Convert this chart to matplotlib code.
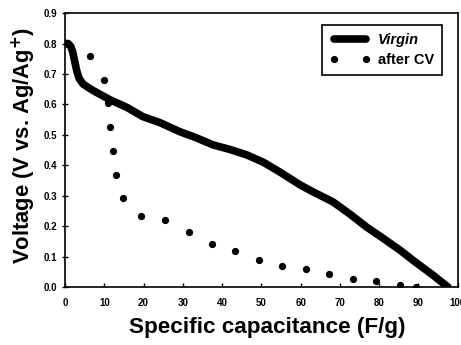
import matplotlib
matplotlib.use("Agg")
import matplotlib.pyplot as plt

# Virgin electrode discharge curve
virgin_x = [0, 0.8, 1.5, 2.0, 2.5, 3.0, 3.6, 4.6, 6.0, 7.1, 11.5, 15.8, 19.8, 24.2, 29.3,
            33.5, 37.7, 42, 46.3, 50.5, 54.7, 59.8, 63.1, 68.2, 72.5, 76.8, 81, 85.2,
            89.4, 93.6, 97.5]
virgin_y = [0.80, 0.80, 0.79, 0.77, 0.74, 0.71, 0.685, 0.667, 0.655, 0.646, 0.615, 0.59,
            0.56, 0.54, 0.51, 0.49, 0.467, 0.452, 0.434, 0.41, 0.378, 0.336, 0.313,
            0.28, 0.24, 0.197, 0.16, 0.122, 0.08, 0.04, 0.0]

# after CV cycling
cv_x = [6.4, 9.9, 10.9, 11.5, 12.2, 13.0, 14.8, 19.3, 25.4, 31.6, 37.4, 43.3, 49.4,
        55.2, 61.3, 67.2, 73.3, 79.1, 85.2, 89.3]
cv_y = [0.76, 0.68, 0.605, 0.526, 0.447, 0.368, 0.293, 0.234, 0.22, 0.18, 0.14, 0.12,
        0.09, 0.07, 0.06, 0.043, 0.026, 0.02, 0.007, 0.0]

xticks = [0, 10, 20, 30, 40, 50, 60, 70, 80, 90, 100]
yticks = [0.0, 0.1, 0.2, 0.3, 0.4, 0.5, 0.6, 0.7, 0.8, 0.9]

plt.rcParams['font.family'] = ['Liberation Sans', 'DejaVu Sans']

fig = plt.figure(figsize=(4.61, 3.45), dpi=100)
ax = fig.add_axes([0.141, 0.168, 0.852, 0.794])

ax.plot(virgin_x, virgin_y, color='black', lw=5.5, solid_capstyle='round',
        solid_joinstyle='round', label='Virgin')
ax.plot(cv_x, cv_y, 'o', color='black', ms=4.2, ls='none', label='after CV')

ax.set_xlim(0, 100)
ax.set_ylim(0, 0.9)
ax.set_xticks(xticks)
ax.set_yticks(yticks)
ax.set_xticklabels([str(t) for t in xticks], fontsize=7, fontweight='bold')
ax.set_yticklabels([f"{t:.1f}" for t in yticks], fontsize=7, fontweight='bold')
ax.tick_params(axis='x', direction='in', length=3, width=1, pad=8)
ax.tick_params(axis='y', direction='inout', length=5, width=1, pad=3)
for s in ax.spines.values():
    s.set_linewidth(1.2)

ax.set_xlabel("Specific capacitance (F/g)", fontsize=16.2, fontweight='bold')
ax.xaxis.set_label_coords(0.515, -0.11, transform=ax.transAxes)
ax.xaxis.label.set_va('top')
ax.set_ylabel(r"Voltage (V vs. Ag/Ag$^{\mathbf{+}}$)", fontsize=15.8, fontweight='bold')
ax.yaxis.set_label_coords(-0.07, 0.518, transform=ax.transAxes)
ax.yaxis.label.set_va('bottom')

leg = ax.legend(loc='upper right', bbox_to_anchor=(0.96, 0.955), numpoints=2,
                fancybox=False, edgecolor='black', framealpha=1, handlelength=2.8,
                handletextpad=0.5, borderpad=0.55, labelspacing=0.4,
                borderaxespad=0, prop={'weight': 'bold', 'size': 10.5})
leg.get_frame().set_linewidth(1.2)
leg.get_texts()[0].set_style('italic')

fig.savefig('out.png', dpi=100)
